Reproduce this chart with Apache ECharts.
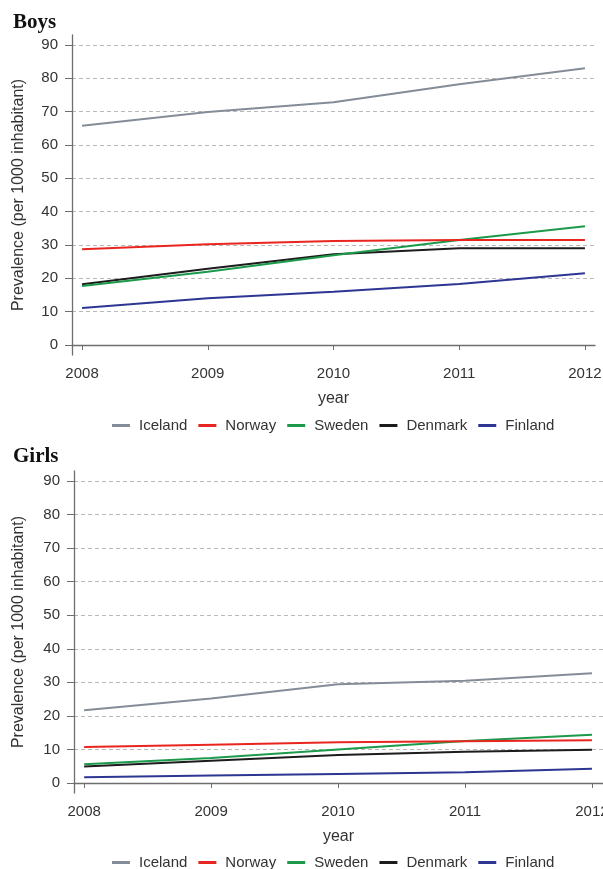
<!DOCTYPE html>
<html>
<head>
<meta charset="utf-8">
<script src="https://cdn.jsdelivr.net/npm/echarts@6/dist/echarts.min.js"></script>
<style>
html,body{margin:0;padding:0;background:#fff;}
#c{width:603px;height:869px;}
</style>
</head>
<body>
<div id="c"></div>
<script>
const years = [2008, 2009, 2010, 2011, 2012];
const yTicks = [0, 10, 20, 30, 40, 50, 60, 70, 80, 90];
const countries = ['Iceland', 'Norway', 'Sweden', 'Denmark', 'Finland'];

// Boys prevalence (per 1000 inhabitant)
const boysIceland = [65.8, 69.9, 72.8, 78.2, 83.0];
const boysNorway  = [28.7, 30.2, 31.2, 31.5, 31.5];
const boysSweden  = [17.7, 22.0, 26.9, 31.5, 35.6];
const boysDenmark = [18.2, 22.9, 27.2, 29.0, 29.0];
const boysFinland = [11.1, 14.0, 16.0, 18.3, 21.5];

// Girls prevalence (per 1000 inhabitant)
const girlsIceland = [21.7, 25.2, 29.4, 30.5, 32.7];
const girlsNorway  = [10.7, 11.4, 12.1, 12.4, 12.7];
const girlsSweden  = [5.6, 7.4, 10.0, 12.5, 14.4];
const girlsDenmark = [4.9, 6.6, 8.3, 9.3, 9.9];
const girlsFinland = [1.7, 2.2, 2.7, 3.2, 4.2];

const colors = ['#848d97', '#e8261f', '#1b9a4b', '#1c1c1c', '#2d3693'];
const boys = [boysIceland, boysNorway, boysSweden, boysDenmark, boysFinland];
const girls = [girlsIceland, girlsNorway, girlsSweden, girlsDenmark, girlsFinland];

const FONT = '"Liberation Sans", Arial, sans-serif';
const axisColor = '#6e6e6e';
const textColor = '#333';

function xAxis(gridIndex, max) {
  return {
    type: 'value', gridIndex: gridIndex, min: 2007.92, max: max,
    name: 'year', nameLocation: 'middle', nameGap: 36,
    nameTextStyle: {fontFamily: FONT, fontSize: 16, color: textColor},
    axisLine: {show: true, lineStyle: {color: axisColor, width: 1.3}},
    axisTick: {show: true, length: 5, customValues: years, lineStyle: {color: axisColor}},
    axisLabel: {customValues: years, formatter: v => String(v), fontFamily: FONT, fontSize: 15, color: textColor, margin: 11},
    splitLine: {show: false}
  };
}
function yAxis(gridIndex, gap) {
  return {
    type: 'value', gridIndex: gridIndex, min: -3, max: 93,
    name: 'Prevalence (per 1000 inhabitant)', nameLocation: 'middle', nameGap: gap, nameRotate: 90,
    nameTextStyle: {fontFamily: FONT, fontSize: 16, color: textColor},
    axisLine: {show: true, lineStyle: {color: axisColor, width: 1.3}},
    axisTick: {show: true, length: 7, customValues: yTicks, lineStyle: {color: axisColor}},
    axisLabel: {customValues: yTicks, fontFamily: FONT, fontSize: 15, color: textColor, margin: 14},
    splitLine: {show: true, lineStyle: {color: '#b9b9b9', type: [4, 3], width: 1}}
  };
}

const series = [];
countries.forEach((c, i) => {
  series.push({
    name: c, type: 'line', xAxisIndex: 0, yAxisIndex: 0,
    data: years.map((y, k) => [y, boys[i][k]]),
    showSymbol: false, symbol: 'none', lineStyle: {width: 2, color: colors[i]}, itemStyle: {color: colors[i]},
    z: 10 - i
  });
  series.push({
    name: c, type: 'line', xAxisIndex: 1, yAxisIndex: 1,
    data: years.map((y, k) => [y, girls[i][k]]),
    showSymbol: false, symbol: 'none', lineStyle: {width: 2, color: colors[i]}, itemStyle: {color: colors[i]},
    z: 10 - i
  });
});

function legend(top) {
  return {
    top: top, left: 107, itemWidth: 18, itemHeight: 3, itemGap: 11, icon: 'rect',
    data: countries,
    textStyle: {fontFamily: FONT, fontSize: 15, color: textColor, padding: [0, 0, 0, 4]}
  };
}

const chart = echarts.init(document.getElementById('c'), null, {renderer: 'canvas'});
chart.setOption({
  animation: false,
  backgroundColor: '#fff',
  title: [
    {text: 'Boys', left: 8, top: 7, textStyle: {fontFamily: '"Liberation Serif", "Times New Roman", serif', fontWeight: 'bold', fontSize: 21, color: '#111'}},
    {text: 'Girls', left: 8, top: 441, textStyle: {fontFamily: '"Liberation Serif", "Times New Roman", serif', fontWeight: 'bold', fontSize: 21, color: '#111'}}
  ],
  legend: [legend(413), legend(850)],
  grid: [
    {left: 72, top: 35, width: 523, height: 320, containLabel: false, outerBoundsMode: 'none'},
    {left: 74, top: 471, width: 529, height: 322, containLabel: false, outerBoundsMode: 'none'}
  ],
  xAxis: [xAxis(0, 2012.08), xAxis(1, 2012.087)],
  yAxis: [yAxis(0, 45), yAxis(1, 47)],
  series: series
});
</script>
</body>
</html>
